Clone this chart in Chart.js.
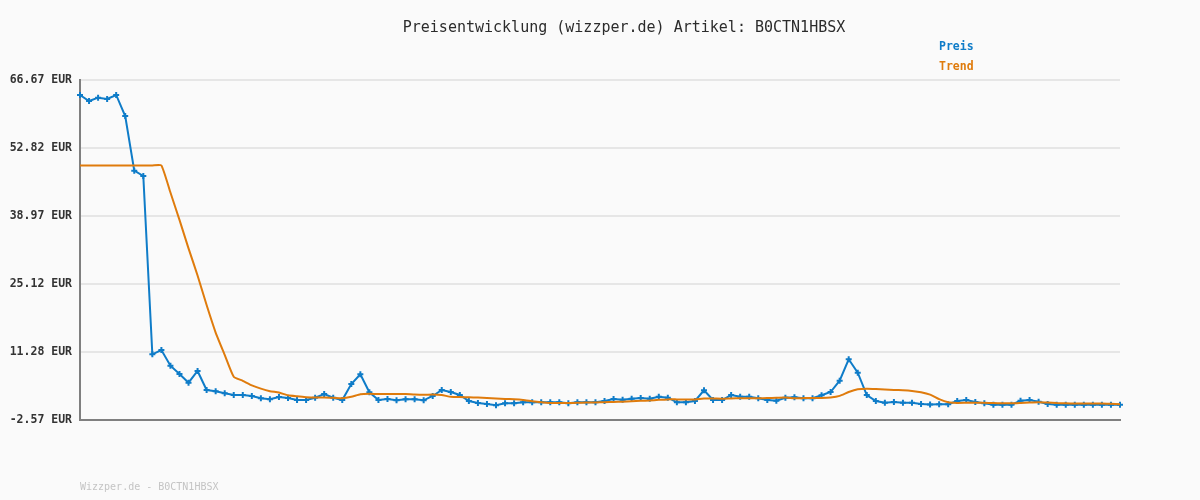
<!DOCTYPE html>
<html>
<head>
<meta charset="utf-8">
<script src="https://cdn.jsdelivr.net/npm/chart.js@4/dist/chart.umd.min.js"></script>
<style>
  html, body { margin: 0; padding: 0; background: #fafafa; }
  #wrap { width: 1200px; height: 500px; position: relative; }
</style>
</head>
<body>
<div id="wrap"><canvas id="myChart" width="1200" height="500"></canvas></div>
<script>
// Preis pro Tag (EUR)
const preis = [
  63.62, 62.39, 63.07, 62.80, 63.62, 59.34, 48.20, 47.12, 10.81, 11.69,
  8.49, 6.80, 5.03, 7.41, 3.54, 3.27, 2.87, 2.52, 2.52, 2.32,
  1.85, 1.65, 2.11, 1.91, 1.50, 1.50, 1.97, 2.73, 1.97, 1.50,
  4.76, 6.74, 3.07, 1.50, 1.71, 1.44, 1.65, 1.65, 1.44, 2.32,
  3.54, 3.13, 2.52, 1.30, 0.89, 0.69, 0.42, 0.83, 0.83, 1.04,
  1.04, 1.04, 1.04, 1.04, 0.83, 1.04, 1.04, 1.04, 1.30, 1.71,
  1.57, 1.77, 1.91, 1.77, 2.17, 1.97, 1.04, 1.04, 1.30, 3.48,
  1.50, 1.50, 2.52, 2.17, 2.17, 1.85, 1.50, 1.36, 1.97, 2.05,
  1.85, 1.85, 2.46, 3.13, 5.43, 9.79, 7.06, 2.52, 1.30, 0.95,
  1.10, 0.95, 0.95, 0.69, 0.59, 0.63, 0.63, 1.30, 1.50, 1.10,
  0.83, 0.55, 0.55, 0.55, 1.36, 1.50, 1.16, 0.69, 0.55, 0.55,
  0.55, 0.55, 0.55, 0.55, 0.55, 0.55
];
// Trend
const trend = [
  49.27, 49.27, 49.27, 49.27, 49.27, 49.27, 49.27, 49.27, 49.27, 49.27,
  43.75, 38.19, 32.39, 26.85, 20.84, 15.24, 10.70, 6.24, 5.41, 4.48,
  3.81, 3.30, 3.01, 2.46, 2.25, 2.08, 1.99, 2.01, 1.95, 1.87,
  2.16, 2.67, 2.77, 2.72, 2.75, 2.74, 2.71, 2.60, 2.55, 2.63,
  2.51, 2.15, 2.09, 2.07, 1.99, 1.91, 1.79, 1.71, 1.65, 1.52,
  1.27, 1.06, 0.91, 0.89, 0.88, 0.92, 0.98, 1.00, 1.05, 1.11,
  1.17, 1.24, 1.33, 1.40, 1.53, 1.63, 1.63, 1.63, 1.63, 1.80,
  1.80, 1.77, 1.83, 1.87, 1.87, 1.86, 1.90, 1.94, 2.00, 1.86,
  1.89, 1.93, 1.92, 2.02, 2.35, 3.14, 3.70, 3.81, 3.74, 3.63,
  3.56, 3.47, 3.32, 3.07, 2.59, 1.67, 1.03, 0.91, 0.93, 0.94,
  0.92, 0.88, 0.84, 0.82, 0.90, 0.99, 1.04, 0.98, 0.88, 0.83,
  0.80, 0.80, 0.80, 0.80, 0.72, 0.63
];
const tage = preis.map((_, i) => i + 1);
const yTicks = [-2.57, 11.28, 25.12, 38.97, 52.82, 66.67];

const mono = '"DejaVu Sans Mono", "Liberation Mono", monospace';
const blau = "#0f7cc8";
const orange = "#df7b0c";

// Titel, Legende und Fußzeile direkt auf den Canvas
const texte = {
  id: "texte",
  afterDraw(chart) {
    const c = chart.ctx;
    c.save();
    c.textBaseline = "middle";
    c.textAlign = "center";
    c.fillStyle = "#2b2b2b";
    c.font = "15px " + mono;
    c.fillText("Preisentwicklung (wizzper.de) Artikel: B0CTN1HBSX", 624, 28);
    c.textAlign = "left";
    c.font = "bold 11.5px " + mono;
    c.fillStyle = blau;
    c.fillText("Preis", 939, 47);
    c.fillStyle = orange;
    c.fillText("Trend", 939, 67);
    c.font = "10px " + mono;
    c.fillStyle = "#c4c4c4";
    c.fillText("Wizzper.de - B0CTN1HBSX", 80, 487);
    c.restore();
  },
};

const ctx = document.getElementById("myChart");
new Chart(ctx, {
  type: "line",
  data: {
    labels: tage,
    datasets: [
      {
        label: "Trend",
        data: trend,
        borderColor: orange,
        borderWidth: 2,
        pointRadius: 0,
        tension: 0.15,
      },
      {
        label: "Preis",
        data: preis,
        borderColor: blau,
        backgroundColor: blau,
        borderWidth: 2,
        pointStyle: "cross",
        pointRadius: 3,
        pointBorderWidth: 2,
        tension: 0,
      },
    ],
  },
  options: {
    responsive: false,
    animation: false,
    layout: { padding: { left: 0, right: 80, top: 80, bottom: 80 } },
    plugins: {
      legend: { display: false },
      title: { display: false },
      tooltip: { enabled: false },
    },
    scales: {
      x: {
        ticks: { display: false },
        grid: { display: false },
        border: { display: true, color: "#7f7f7f", width: 2 },
        afterFit: (s) => { s.height = 0; },
      },
      y: {
        min: -2.57,
        max: 66.67,
        afterBuildTicks: (s) => { s.ticks = yTicks.map((v) => ({ value: v })); },
        afterFit: (s) => { s.width = 80; },
        ticks: {
          callback: (v) => v.toFixed(2) + " EUR",
          font: { family: mono, size: 11.5, weight: "bold" },
          color: "#333",
          padding: 8,
        },
        grid: { color: "#e6e6e6", lineWidth: 2, drawTicks: false },
        border: { color: "#7f7f7f", width: 2 },
      },
    },
  },
  plugins: [texte],
});
</script>
</body>
</html>
